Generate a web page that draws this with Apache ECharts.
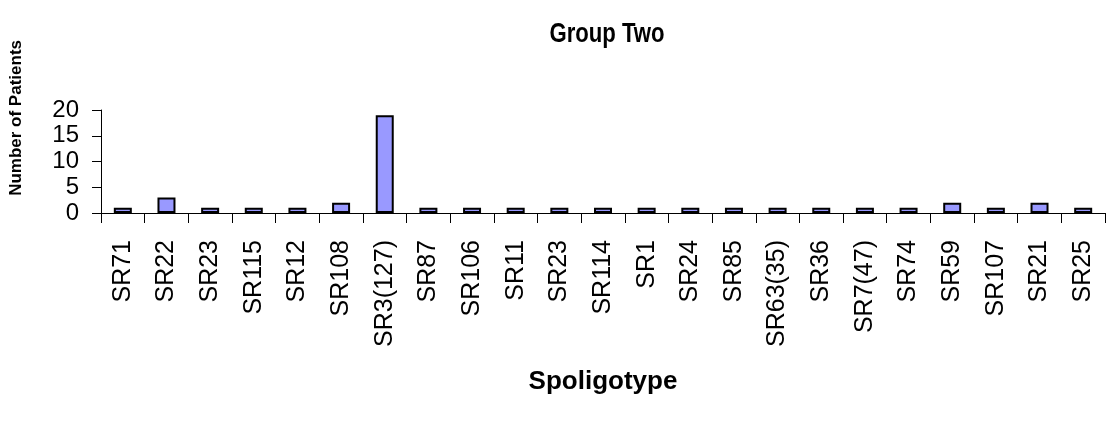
<!DOCTYPE html>
<html>
<head>
<meta charset="utf-8">
<title>Group Two</title>
<script src="https://cdn.jsdelivr.net/npm/echarts@6/dist/echarts.min.js"></script>
<style>
    html, body { margin: 0; padding: 0; background: #fff; }
    #chart { width: 1111px; height: 421px; }
</style>
</head>
<body>
<div id="chart"></div>
<script>
// 类别 - spoligotype
var spoligotypes = ['SR71', 'SR22', 'SR23', 'SR115', 'SR12', 'SR108', 'SR3(127)', 'SR87',
    'SR106', 'SR11', 'SR23', 'SR114', 'SR1', 'SR24', 'SR85', 'SR63(35)', 'SR36',
    'SR7(47)', 'SR74', 'SR59', 'SR107', 'SR21', 'SR25'];
// 病人数
var patients = [1, 3, 1, 1, 1, 2, 19, 1, 1, 1, 1, 1, 1, 1, 1, 1, 1, 1, 1, 2, 1, 2, 1];
// y轴刻度
var yTicks = [0, 5, 10, 15, 20];

(function() {
    'use strict';

    var font = 'Liberation Sans, Arial, sans-serif';
    var myChart = echarts.init(document.getElementById('chart'));

    var option = {
        animation: false,
        backgroundColor: '#fff',
        graphic: [{
            // 标题 (原图字体偏窄，用 scaleX 压一下)
            type: 'text',
            x: 607,
            y: 21,
            scaleX: 0.82,
            style: {
                text: 'Group Two',
                font: 'bold 27px ' + font,
                fill: '#000',
                textAlign: 'center',
                textVerticalAlign: 'top'
            }
        }, {
            // y轴标题
            type: 'text',
            left: 8,
            top: 40,
            rotation: Math.PI / 2,
            style: {
                text: 'Number of Patients',
                font: 'bold 17px ' + font,
                fill: '#000'
            }
        }],
        grid: { left: 101, right: 6, top: 110, bottom: 208 },
        xAxis: {
            type: 'category',
            data: spoligotypes,
            name: 'Spoligotype',
            nameLocation: 'middle',
            nameGap: 156,
            nameTextStyle: { fontFamily: font, fontSize: 26, fontWeight: 'bold', color: '#000' },
            axisLine: { lineStyle: { color: '#000', width: 1 } },
            axisTick: { show: true, length: 10, lineStyle: { color: '#000' } },
            axisLabel: {
                interval: 0,
                rotate: 90,
                margin: 27,
                fontFamily: font,
                fontSize: 25,
                color: '#000'
            },
            splitLine: { show: false }
        },
        yAxis: {
            type: 'value',
            min: yTicks[0],
            max: yTicks[yTicks.length - 1],
            interval: yTicks[1] - yTicks[0],
            axisLine: { show: true, lineStyle: { color: '#000', width: 1 } },
            axisTick: { show: true, length: 9, lineStyle: { color: '#000' } },
            axisLabel: {
                margin: 22,
                fontFamily: font,
                fontSize: 24,
                color: '#000'
            },
            splitLine: { show: false }
        },
        series: [{
            type: 'bar',
            data: patients,
            barWidth: 18,
            itemStyle: { color: '#9999FF', borderColor: '#000', borderWidth: 2 }
        }]
    };

    myChart.setOption(option);
})();
</script>
</body>
</html>
